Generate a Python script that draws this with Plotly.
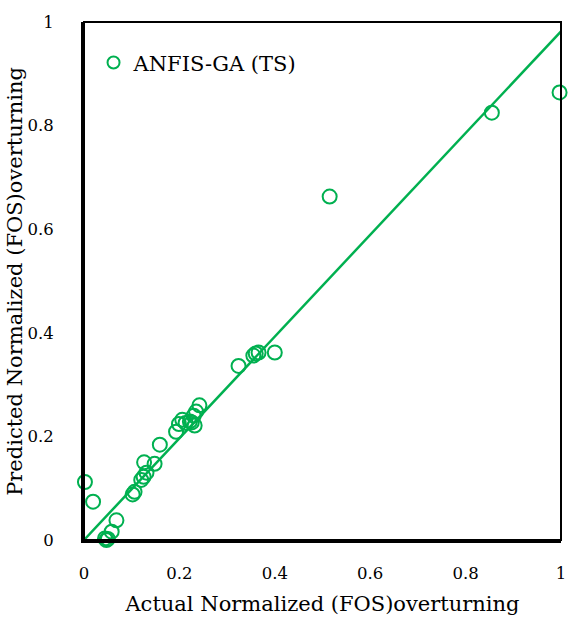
import plotly.graph_objects as go

# Data
actual = [0.002, 0.019, 0.044, 0.047, 0.050, 0.058, 0.068, 0.102, 0.106, 0.120,
          0.125, 0.126, 0.131, 0.148, 0.159, 0.193, 0.199, 0.206, 0.213, 0.222,
          0.226, 0.230, 0.232, 0.235, 0.242, 0.324, 0.355, 0.360, 0.366, 0.400,
          0.515, 0.855, 0.997]
predicted = [0.112, 0.074, 0.003, 0.000, 0.002, 0.016, 0.038, 0.088, 0.093, 0.116,
             0.122, 0.150, 0.130, 0.147, 0.184, 0.209, 0.224, 0.232, 0.226, 0.229,
             0.227, 0.240, 0.221, 0.248, 0.260, 0.336, 0.356, 0.360, 0.362, 0.362,
             0.663, 0.825, 0.864]

fit_slope = 0.982
fit_intercept = 0.0
fit_x = [0.0, 1.0]
fit_y = [fit_slope * v + fit_intercept for v in fit_x]

tick_vals = [0, 0.2, 0.4, 0.6, 0.8, 1]
tick_text = ["0", "0.2", "0.4", "0.6", "0.8", "1"]

series_name = "ANFIS-GA (TS)"
x_title = "Actual Normalized (FOS)overturning"
y_title = "Predicted Normalized (FOS)overturning"

GREEN = "#00B050"
FONT = "DejaVu Serif"

fig = go.Figure()
fig.add_trace(go.Scatter(
    x=fit_x, y=fit_y, mode="lines",
    line=dict(color=GREEN, width=2.5),
    showlegend=False, hoverinfo="skip", cliponaxis=False,
))
fig.add_trace(go.Scatter(
    x=actual, y=predicted, mode="markers", name=series_name,
    marker=dict(symbol="circle-open", size=14, color=GREEN, line=dict(width=2, color=GREEN)),
    cliponaxis=False,
))

fig.update_layout(
    width=568, height=628,
    margin=dict(l=84, r=7, t=22, b=88, autoexpand=False),
    paper_bgcolor="white", plot_bgcolor="white",
    font=dict(family=FONT, size=16.5, color="black"),
    showlegend=True,
    legend=dict(x=0.02, y=0.921, xanchor="left", yanchor="middle",
                bgcolor="rgba(0,0,0,0)", font=dict(family=FONT, size=21),
                itemsizing="constant"),
    shapes=[dict(type="rect", xref="paper", yref="paper", x0=0, y0=0, x1=1, y1=1,
                 line=dict(color="black", width=2), layer="above")],
    annotations=[dict(text=y_title, xref="paper", yref="paper", x=-0.145, y=0.5,
                      xanchor="center", yanchor="middle", textangle=-90,
                      showarrow=False, font=dict(family=FONT, size=21))],
)
fig.update_xaxes(
    range=[0, 1], tickvals=tick_vals, ticktext=tick_text,
    showgrid=False, zeroline=False,
    showline=True, linecolor="black", linewidth=3,
    ticks="", ticklabelstandoff=16, ticklabeloverflow="allow",
    title=dict(text=x_title, font=dict(family=FONT, size=21), standoff=15),
)
fig.update_yaxes(
    range=[0, 1], tickvals=tick_vals, ticktext=tick_text,
    showgrid=False, zeroline=False,
    showline=True, linecolor="black", linewidth=3,
    ticks="", ticklabelstandoff=24, ticklabeloverflow="allow",
)

fig.write_html("out.html")
